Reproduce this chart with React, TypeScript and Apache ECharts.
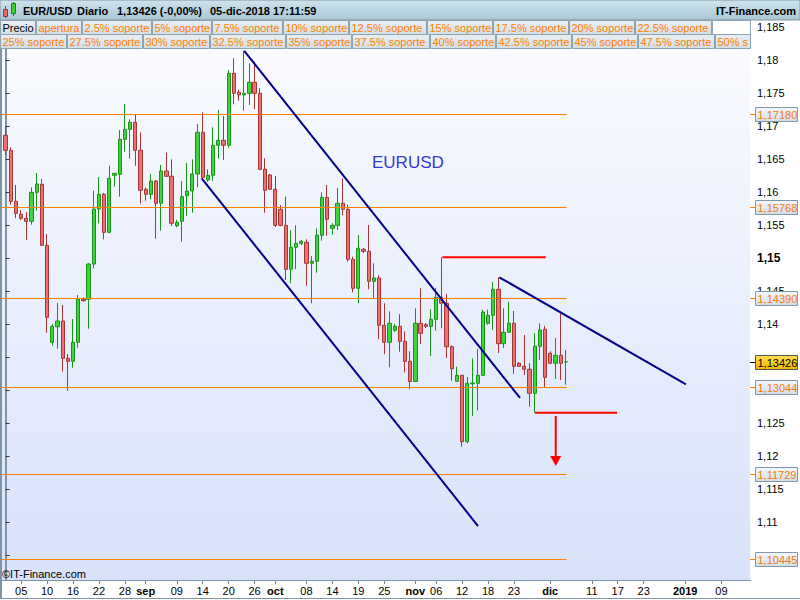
import React, { useEffect, useRef } from 'react';
import * as echarts from 'echarts';

const FONT = '"Liberation Sans", Arial, Helvetica, sans-serif';

// ---- calendar (daily bars, Sunday..Friday sessions) ----
const FIRST_DAY = '2018-08-01';
const LAST_DAY = '2019-01-15';

// ---- x axis labels ----
const xLabelDates = [
  '2018-08-05', '2018-08-10', '2018-08-16', '2018-08-22', '2018-08-28', '2018-09-02',
  '2018-09-09', '2018-09-14', '2018-09-20', '2018-09-26', '2018-10-01', '2018-10-08',
  '2018-10-14', '2018-10-19', '2018-10-25', '2018-11-01', '2018-11-06', '2018-11-12',
  '2018-11-18', '2018-11-23', '2018-12-02', '2018-12-11', '2018-12-17', '2018-12-23',
  '2019-01-01', '2019-01-09',
];
const xLabelTexts = [
  '05', '10', '16', '22', '28', 'sep', '09', '14', '20', '26', 'oct', '08', '14', '19', '25',
  'nov', '06', '12', '18', '23', 'dic', '11', '17', '23', '2019', '09',
];
const boldXLabels = ['sep', 'oct', 'nov', 'dic', '2019'];

// ---- y axis ticks / labels (labels hidden under the price boxes are left out) ----
const yTickValues = [1.105, 1.11, 1.115, 1.12, 1.125, 1.13, 1.135, 1.14, 1.145, 1.15, 1.155, 1.16, 1.165, 1.17, 1.175, 1.18, 1.185];
const yLabelValues = [1.11, 1.115, 1.12, 1.125, 1.14, 1.145, 1.15, 1.155, 1.16, 1.165, 1.17, 1.175, 1.18, 1.185];
const Y_MIN = 1.101212;
const Y_MAX = 1.186061;

// ---- OHLC (2018-08-01 .. 2018-12-05) ----
const opens = [
  1.16859, 1.16632, 1.15859, 1.15662, 1.15602, 1.15556, 1.15995, 1.16117, 1.15192, 1.13723,
  1.13959, 1.14045, 1.13480, 1.13435, 1.13723, 1.14374, 1.14374, 1.14909, 1.15742, 1.15965,
  1.15389, 1.16253, 1.16268, 1.16798, 1.16950, 1.17056, 1.16632, 1.16041, 1.15965, 1.16167,
  1.15829, 1.16318, 1.16238, 1.15489, 1.15556, 1.15944, 1.16015, 1.16273, 1.16905, 1.16182,
  1.16253, 1.16708, 1.16783, 1.16708, 1.17798, 1.17511, 1.17470, 1.17495, 1.17662, 1.17495,
  1.16344, 1.16258, 1.16041, 1.15738, 1.15495, 1.14829, 1.15162, 1.15223, 1.15238, 1.14920,
  1.14950, 1.15344, 1.15920, 1.15450, 1.15495, 1.15829, 1.15738, 1.14980, 1.14541, 1.15132,
  1.15102, 1.14647, 1.14697, 1.13980, 1.13723, 1.13905, 1.13965, 1.13738, 1.13435, 1.13129,
  1.14011, 1.13989, 1.13965, 1.14071, 1.14405, 1.14314, 1.13656, 1.13132, 1.13223, 1.12217,
  1.13095, 1.13102, 1.13223, 1.14011, 1.14132, 1.14526, 1.13702, 1.13874, 1.14011, 1.13405,
  1.13359, 1.13314, 1.12950, 1.13662, 1.13920, 1.13556, 1.13405, 1.13526, 1.13426,
];
const highs = [
  1.17000, 1.16677, 1.16106, 1.15727, 1.15697, 1.16071, 1.16288, 1.16197, 1.15364, 1.14000,
  1.14318, 1.14288, 1.13545, 1.14076, 1.14439, 1.14405, 1.14924, 1.16020, 1.16227, 1.15985,
  1.16398, 1.16290, 1.16939, 1.17333, 1.17102, 1.17167, 1.16905, 1.16071, 1.16273, 1.16182,
  1.16409, 1.16595, 1.16495, 1.15576, 1.16167, 1.16439, 1.16495, 1.17030, 1.17208, 1.16344,
  1.16980, 1.17242, 1.17152, 1.17848, 1.18026, 1.17545, 1.18140, 1.17950, 1.17974, 1.17571,
  1.16511, 1.16273, 1.16242, 1.15803, 1.15929, 1.15424, 1.15495, 1.15273, 1.15283, 1.15030,
  1.15450, 1.15995, 1.16106, 1.15526, 1.16061, 1.16208, 1.15803, 1.15020, 1.15348, 1.15152,
  1.15500, 1.14920, 1.14738, 1.14314, 1.14192, 1.14000, 1.14147, 1.13889, 1.13588, 1.14238,
  1.14542, 1.14015, 1.14223, 1.14542, 1.15011, 1.14455, 1.13677, 1.13353, 1.13227, 1.13197,
  1.13480, 1.13621, 1.14217, 1.14217, 1.14636, 1.14708, 1.14238, 1.14338, 1.14197, 1.13424,
  1.13833, 1.13405, 1.13859, 1.14011, 1.13974, 1.13586, 1.13788, 1.14162, 1.13606,
];
const lows = [
  1.16561, 1.15808, 1.15602, 1.15576, 1.15273, 1.15505, 1.15717, 1.15182, 1.13868, 1.13671,
  1.13626, 1.13277, 1.12989, 1.13338, 1.13641, 1.14338, 1.13929, 1.14844, 1.15526, 1.15283,
  1.15374, 1.16080, 1.15929, 1.16611, 1.16505, 1.16398, 1.15823, 1.15868, 1.15889, 1.15292,
  1.15414, 1.16227, 1.15485, 1.15465, 1.15247, 1.15641, 1.15686, 1.16071, 1.16212, 1.16156,
  1.16167, 1.16505, 1.16485, 1.16671, 1.17329, 1.17383, 1.17232, 1.17318, 1.17253, 1.16333,
  1.15686, 1.16030, 1.15470, 1.15480, 1.14667, 1.14617, 1.14829, 1.15197, 1.14580, 1.14314,
  1.14777, 1.15262, 1.15338, 1.15353, 1.15424, 1.15647, 1.14944, 1.14480, 1.14314, 1.15076,
  1.14526, 1.14389, 1.13768, 1.13541, 1.13344, 1.13879, 1.13580, 1.13268, 1.13011, 1.13121,
  1.13697, 1.13939, 1.13515, 1.13898, 1.13935, 1.13485, 1.13141, 1.13121, 1.12141, 1.12192,
  1.12606, 1.12692, 1.13212, 1.13990, 1.13909, 1.13561, 1.13636, 1.13871, 1.13247, 1.13348,
  1.13227, 1.12747, 1.12656, 1.13455, 1.13030, 1.13394, 1.13167, 1.13152, 1.13080,
];
const closes = [
  1.16632, 1.15859, 1.15677, 1.15602, 1.15556, 1.15995, 1.16121, 1.15192, 1.14102, 1.13965,
  1.14045, 1.13480, 1.13435, 1.13723, 1.14374, 1.14353, 1.14909, 1.15742, 1.15965, 1.15389,
  1.16208, 1.16283, 1.16798, 1.16950, 1.17056, 1.16632, 1.16026, 1.15965, 1.16167, 1.15829,
  1.16318, 1.16238, 1.15526, 1.15541, 1.15929, 1.16015, 1.16273, 1.16905, 1.16223, 1.16253,
  1.16708, 1.16783, 1.16708, 1.17798, 1.17495, 1.17470, 1.17495, 1.17662, 1.17495, 1.16344,
  1.16026, 1.16041, 1.15495, 1.15495, 1.14829, 1.15162, 1.15223, 1.15253, 1.14920, 1.14950,
  1.15344, 1.15920, 1.15586, 1.15495, 1.15829, 1.15738, 1.14980, 1.14541, 1.15147, 1.15102,
  1.14647, 1.14697, 1.13980, 1.13723, 1.14011, 1.13965, 1.13738, 1.13435, 1.13129, 1.14011,
  1.13859, 1.13965, 1.14071, 1.14405, 1.14314, 1.13656, 1.13323, 1.13223, 1.12217, 1.13102,
  1.13106, 1.13223, 1.14182, 1.14132, 1.14526, 1.13702, 1.13874, 1.14011, 1.13359, 1.13359,
  1.13314, 1.12950, 1.13662, 1.13909, 1.13192, 1.13405, 1.13526, 1.13405, 1.13426,
];

// ---- support levels (orange) ----
const levelValues = [1.1718, 1.15768, 1.1439, 1.13044, 1.11729, 1.10445];
const LEVEL_END_INDEX = 108.13;
const LAST_PRICE = 1.13426;

// ---- drawn annotations: [barIndex, price] ----
const channelUpper = [[46.0, 1.1814], [99.16, 1.12879]];
const channelLower = [[37.8, 1.16208], [91.07, 1.10939]];
const resistanceLine = [[95.17, 1.14708], [131.16, 1.13086]];
const redTop = [[84.2, 1.1501], [104.12, 1.1501]];
const redBottom = [[102.05, 1.12656], [117.86, 1.12656]];
const arrowLine = [[106.05, 1.12606], [106.05, 1.11924]];

// ---- header / legend texts ----
const headerTexts = ['EUR/USD', 'Diario', '1,13426 (-0,00%)', '05-dic-2018 17:11:59'];
const legendRow1 = ['Precio', 'apertura', '2.5% soporte', '5% soporte', '7.5% soporte', '10% soporte', '12.5% soporte', '15% soporte', '17.5% soporte', '20% soporte', '22.5% soporte'];
const legendRow2 = ['25% soporte', '27.5% soporte', '30% soporte', '32.5% soporte', '35% soporte', '37.5% soporte', '40% soporte', '42.5% soporte', '45% soporte', '47.5% soporte', '50% soporte'];

function tradingDays(from: string, to: string): string[] {
  const out: string[] = [];
  const d = new Date(from + 'T12:00:00Z');
  const end = new Date(to + 'T12:00:00Z');
  while (d <= end) {
    if (d.getUTCDay() !== 6) out.push(d.toISOString().slice(0, 10));
    d.setUTCDate(d.getUTCDate() + 1);
  }
  return out;
}

const fmtComma = (v: number, digits: number) => v.toFixed(digits).replace('.', ',');
const lg = (a: string, b: string) => new echarts.graphic.LinearGradient(0, 0, 0, 1, [
  { offset: 0, color: a }, { offset: 1, color: b },
]);

function buildStaticGraphics(): any[] {
  const g: any[] = [];
  g.push({ type: 'rect', z: -10, silent: true, shape: { x: 0, y: 20, width: 750, height: 560 }, style: { fill: lg('#fbfcff', '#d8e2fa') } });
  g.push({ type: 'line', z: 50, silent: true, shape: { x1: 1, y1: 20, x2: 1, y2: 599 }, style: { stroke: '#7f95a5', lineWidth: 2 } });
  g.push({ type: 'line', z: 50, silent: true, shape: { x1: 0, y1: 580.5, x2: 751, y2: 580.5 }, style: { stroke: '#7f95a5', lineWidth: 1 } });
  g.push({ type: 'line', z: 50, silent: true, shape: { x1: 0, y1: 598.5, x2: 800, y2: 598.5 }, style: { stroke: '#7f95a5', lineWidth: 1 } });
  // header bar
  g.push({ type: 'rect', z: 100, silent: true, shape: { x: 0, y: 0, width: 800, height: 20 }, style: { fill: lg('#cfe3ec', '#a9c7d5'), stroke: '#7f95a5', lineWidth: 1 } });
  // icon
  g.push({ type: 'line', z: 101, silent: true, shape: { x1: 5.5, y1: 6, x2: 5.5, y2: 18 }, style: { stroke: '#a03030', lineWidth: 1 } });
  g.push({ type: 'rect', z: 102, silent: true, shape: { x: 3.5, y: 9.5, width: 4, height: 7 }, style: { fill: '#e86c6c', stroke: '#a03030', lineWidth: 1 } });
  g.push({ type: 'line', z: 101, silent: true, shape: { x1: 13.5, y1: 2, x2: 13.5, y2: 16 }, style: { stroke: '#108a10', lineWidth: 1 } });
  g.push({ type: 'rect', z: 102, silent: true, shape: { x: 11.5, y: 3.5, width: 4, height: 10 }, style: { fill: '#40d040', stroke: '#108a10', lineWidth: 1 } });
  const headerX = [23, 77, 117, 210];
  headerTexts.forEach((t, i) => {
    g.push({ type: 'text', z: 103, silent: true, x: headerX[i], y: 11, style: { text: t, fill: '#000', fontSize: 11, fontWeight: 'bold', fontFamily: FONT, verticalAlign: 'middle', align: 'left' } });
  });
  g.push({ type: 'text', z: 103, silent: true, x: 796, y: 11, style: { text: 'IT-Finance.com', fill: '#000', fontSize: 11, fontWeight: 'bold', fontFamily: FONT, verticalAlign: 'middle', align: 'right' } });

  // legend rows
  const row1X = [0, 36, 82, 152, 212, 283, 349, 427, 493, 569, 635, 712];
  const row2X = [0, 67, 143, 210, 286, 352, 430, 496, 572, 638, 715, 790];
  const drawRow = (labels: string[], xs: number[], y: number) => {
    labels.forEach((t, i) => {
      const x0 = xs[i];
      const x1 = Math.min(xs[i + 1] - 1, 750);
      g.push({ type: 'rect', z: 100, silent: true, shape: { x: x0 + 0.5, y: y + 0.5, width: x1 - x0, height: 14 }, style: { fill: lg('#e9eff3', '#d3dee5'), stroke: '#8ea4b3', lineWidth: 1 } });
      g.push({ type: 'text', z: 101, silent: true, x: x0 + 2.5, y: y + 8, style: {
        text: t, fill: t === 'Precio' ? '#000' : '#ff7f00', fontSize: 11, fontFamily: FONT,
        verticalAlign: 'middle', align: 'left', width: x1 - x0 - 2, overflow: 'truncate', ellipsis: '',
      } });
    });
  };
  drawRow(legendRow1, row1X, 20);
  g.push({ type: 'rect', z: 100, silent: true, shape: { x: 712.5, y: 20.5, width: 38, height: 14 }, style: { fill: '#ffffff', stroke: '#8ea4b3', lineWidth: 1 } });
  drawRow(legendRow2, row2X, 34);

  g.push({ type: 'text', z: 60, silent: true, x: 372, y: 162, style: { text: 'EURUSD', fill: '#3838d2', fontSize: 17, fontFamily: FONT, verticalAlign: 'middle', align: 'left' } });
  g.push({ type: 'text', z: 60, silent: true, x: 2, y: 574, style: { text: '©IT-Finance.com', fill: '#000', fontSize: 11, fontFamily: FONT, verticalAlign: 'middle', align: 'left' } });
  return g;
}

function buildOption(staticGraphics: any[]) {
  const categories = tradingDays(FIRST_DAY, LAST_DAY);
  const labelMap: Record<string, string> = {};
  xLabelDates.forEach((d, i) => { labelMap[d] = xLabelTexts[i]; });
  const candleData = opens.map((o, i) => [o, closes[i], lows[i], highs[i]]);

  const segment = (pts: number[][], color: string, width: number, z: number) => ({
    type: 'line', xAxisIndex: 1, yAxisIndex: 0, data: pts, symbol: 'none', silent: true,
    lineStyle: { color, width }, itemStyle: { color }, z, emphasis: { disabled: true },
  });

  const series: any[] = [];
  series.push({
    type: 'candlestick',
    xAxisIndex: 0, yAxisIndex: 0,
    data: candleData,
    barWidth: 3.8,
    silent: true,
    z: 2,
    itemStyle: {
      color: '#3fd33f', color0: '#ec7272',
      borderColor: '#179417', borderColor0: '#a83434', borderWidth: 1,
      borderColorDoji: '#179417',
    },
  });
  series.push(segment(channelUpper, '#00008b', 2, 5));
  series.push(segment(channelLower, '#00008b', 2, 5));
  series.push(segment(resistanceLine, '#00008b', 2, 5));
  series.push(segment(redTop, '#ff0000', 2, 5));
  series.push(segment(redBottom, '#ff0000', 2, 5));
  series.push({
    ...segment([], '#ff0000', 2, 5),
    showSymbol: true,
    data: [
      { value: arrowLine[0], symbol: 'none' },
      { value: arrowLine[1], symbol: 'triangle', symbolSize: [11, 10], symbolRotate: 180, itemStyle: { color: '#ff0000' } },
    ],
  });

  return {
    animation: false,
    backgroundColor: '#ffffff',
    textStyle: { fontFamily: FONT },
    grid: { left: 3, right: 50, top: 20, bottom: 20, show: false },
    xAxis: [
      {
        type: 'category', data: categories, boundaryGap: true,
        axisLine: { show: true, lineStyle: { color: '#7f95a5', width: 1 } },
        axisTick: { show: true, alignWithLabel: true, length: 4, interval: (_i: number, v: string) => labelMap[v] !== undefined, lineStyle: { color: '#6f8595' } },
        axisLabel: {
          interval: (_i: number, v: string) => labelMap[v] !== undefined,
          formatter: (v: string) => {
            const t = labelMap[v] || '';
            return boldXLabels.indexOf(t) >= 0 ? '{b|' + t + '}' : t;
          },
          color: '#000', fontSize: 11, fontFamily: FONT, margin: 5,
          rich: { b: { fontWeight: 'bold', fontSize: 11, fontFamily: FONT, color: '#000' } },
        },
        splitLine: { show: false },
      },
      { type: 'value', min: -0.5, max: 143.5, show: false },
    ],
    yAxis: {
      type: 'value', position: 'right', min: Y_MIN, max: Y_MAX, scale: true,
      axisLine: { show: true, lineStyle: { color: '#7f95a5', width: 2 } },
      axisTick: { show: true, length: 4, customValues: yTickValues, lineStyle: { color: '#333' } },
      axisLabel: {
        customValues: yLabelValues, margin: 7, color: '#000', fontSize: 11, fontFamily: FONT,
        formatter: (v: number) => {
          const s = String(Number(v.toFixed(3))).replace('.', ',');
          return Math.abs(v - 1.15) < 1e-9 ? '{b|' + s + '}' : s;
        },
        rich: { b: { fontWeight: 'bold', fontSize: 12, fontFamily: FONT, color: '#000' } },
      },
      splitLine: { show: false },
    },
    graphic: { elements: staticGraphics },
    series,
  };
}

// level lines and right-axis price boxes, positioned through the chart's own scales
function buildLevelGraphics(chart: echarts.ECharts): any[] {
  const out: any[] = [];
  const xEnd = chart.convertToPixel({ xAxisIndex: 1 }, LEVEL_END_INDEX) as number;
  const box = (v: number, textColor: string, fill: any, stroke: string, tickColor: string) => {
    const y = chart.convertToPixel({ yAxisIndex: 0 }, v) as number;
    const yc = Math.round(y);
    out.push({ type: 'line', z: 110, silent: true, shape: { x1: 750, y1: yc + 0.5, x2: 756, y2: yc + 0.5 }, style: { stroke: tickColor, lineWidth: 1 } });
    out.push({ type: 'rect', z: 110, silent: true, shape: { x: 755.5, y: yc - 6.5, width: 42, height: 14 }, style: { fill, stroke, lineWidth: 1 } });
    out.push({ type: 'text', z: 111, silent: true, x: 757.5, y: yc + 1, style: { text: fmtComma(v, 5), fill: textColor, fontSize: 11, fontFamily: FONT, verticalAlign: 'middle', align: 'left' } });
  };
  levelValues.forEach((v) => {
    const y = chart.convertToPixel({ yAxisIndex: 0 }, v) as number;
    const yc = Math.round(y) + 0.5;
    out.push({ type: 'line', z: 3, silent: true, shape: { x1: 0, y1: yc, x2: xEnd, y2: yc }, style: { stroke: '#ff8000', lineWidth: 1 } });
    box(v, '#f57a0a', lg('#f4f7fa', '#d3dee9'), '#7f97a8', '#ff8000');
  });
  box(LAST_PRICE, '#000000', lg('#ffe04a', '#f3b600'), '#555555', '#000000');
  return out;
}

export default function App() {
  const ref = useRef<HTMLDivElement>(null);
  useEffect(() => {
    if (!ref.current) return;
    const chart = echarts.init(ref.current, undefined, { renderer: 'svg' });
    const staticGraphics = buildStaticGraphics();
    chart.setOption(buildOption(staticGraphics) as any);
    const dynamic = buildLevelGraphics(chart);
    chart.setOption({ graphic: { elements: staticGraphics.concat(dynamic) } } as any);
    return () => chart.dispose();
  }, []);
  return <div ref={ref} style={{ position: 'fixed', left: 0, top: 0, width: 800, height: 600 }} />;
}
